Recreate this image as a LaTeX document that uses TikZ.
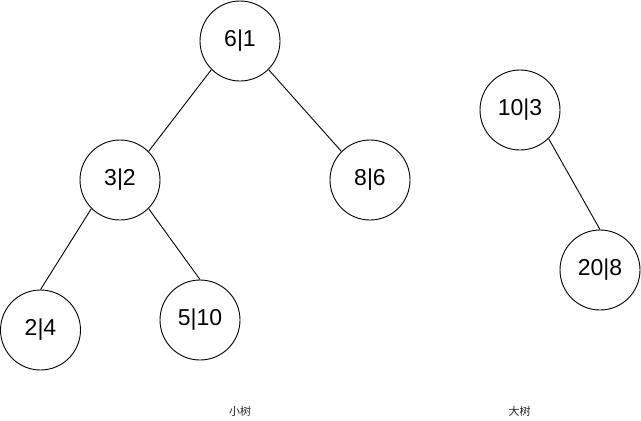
\documentclass[tikz,border=0pt]{standalone}
\usepackage{fontspec}
\setmainfont{Liberation Sans}
\newfontfamily\cjkfont{Noto Sans CJK SC}
\begin{document}
\begin{tikzpicture}[x=1pt,y=-1pt,
  treenode/.style={draw=black,line width=0.9pt,circle,minimum size=80pt,inner sep=0pt,
    font=\fontsize{23}{27}\selectfont},
  edge/.style={draw=black,line width=0.9pt},
  caption/.style={font=\cjkfont\fontsize{11}{13}\selectfont,text=black!85}]
\useasboundingbox (0,0) rectangle (641,421);
% smaller tree
\node[treenode] (n61) at (240,41) {6|1};
\node[treenode] (n32) at (120,180) {3|2};
\node[treenode] (n86) at (370,180) {8|6};
\node[treenode] (n24) at (40.5,330) {2|4};
\node[treenode] (n510) at (200,320) {5|10};
% larger tree
\node[treenode] (n103) at (520,110) {10|3};
\node[treenode] (n208) at (600,270) {20|8};
% edges, attached at fixed points on the circles
\draw[edge] (n61.225) -- (n32.45);
\draw[edge] (n61.315) -- (n86.135);
\draw[edge] (n32.225) -- (n24.north);
\draw[edge] (n32.315) -- (n510.north);
\draw[edge] (n103.315) -- (n208.north);
% captions
\node[caption] (capsmall) at (240,411) {小树};
\node[caption] (capbig) at (519.5,411) {大树};
\end{tikzpicture}
\end{document}
